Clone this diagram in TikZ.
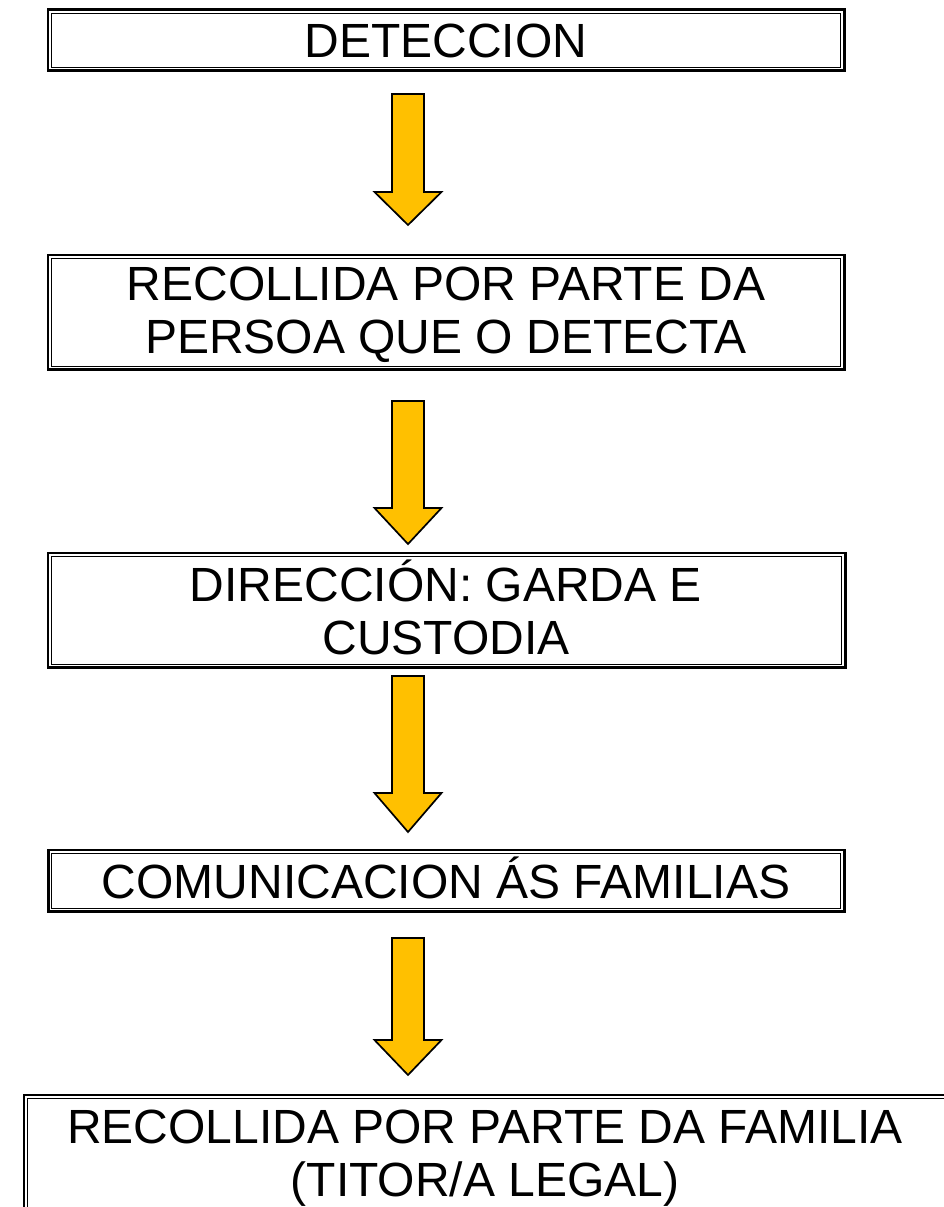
\documentclass[tikz,border=0pt]{standalone}
\usepackage{fontspec}
\setmainfont{Liberation Sans}
\definecolor{arrowgold}{HTML}{FFC000}
\tikzset{
  boxframe/.style={rectangle, draw=none, inner sep=0pt},
  boxtext/.style={anchor=base, inner sep=0pt, font=\fontsize{48}{53}\selectfont},
  outerline/.style={line width=2.6pt},
  innerline/.style={line width=1pt},
  blockarrow/.style={fill=arrowgold, draw=black, line width=1.7pt, line join=miter},
}
\newcommand\dframe[1]{%
  \draw[outerline] (#1.north west) rectangle (#1.south east);
  \draw[innerline] ([shift={(3.5,3.5)}]#1.north west) rectangle ([shift={(-3.5,-3.5)}]#1.south east);}
\newcommand\barrow[4]{%
  \draw[blockarrow] (392,#2) -- (424,#2) -- (424,#3) -- (441.5,#3) -- (408,#4)
    -- (374.5,#3) -- (392,#3) -- cycle;
  \coordinate (#1) at (408,#4);}
\begin{document}
\begin{tikzpicture}[x=1pt,y=-1pt]
\useasboundingbox (0,0) rectangle (944,1207);
% boxes
\node[boxframe, minimum width=796, minimum height=60.5] (b1) at (446,40.25) {};
\node[boxframe, minimum width=796, minimum height=114.5] (b2) at (446,312.25) {};
\node[boxframe, minimum width=797, minimum height=114.5] (b3) at (446.5,610.25) {};
\node[boxframe, minimum width=795.5, minimum height=61.5] (b4) at (446.25,880.75) {};
\node[boxframe, minimum width=930, minimum height=135] (b5) at (489,1162.5) {};
\foreach \b in {b1,b2,b3,b4,b5} {\dframe{\b}}
% texts
\node[boxtext] (t1) at (446,57.5) {DETECCION};
\node[boxtext] (t2) at (446,300) {\begin{tabular}[t]{@{}c@{}}RECOLLIDA POR PARTE DA\\PERSOA QUE O DETECTA\end{tabular}};
\node[boxtext] (t3) at (446,601) {\begin{tabular}[t]{@{}c@{}}DIRECCIÓN: GARDA E\\CUSTODIA\end{tabular}};
\node[boxtext] (t4) at (446,898) {COMUNICACION ÁS FAMILIAS};
\node[boxtext] (t5) at (485,1143) {\begin{tabular}[t]{@{}c@{}}RECOLLIDA POR PARTE DA FAMILIA\\(TITOR/A LEGAL)\end{tabular}};
% arrows
\barrow{a1}{94}{192}{225}
\barrow{a2}{401}{508}{544}
\barrow{a3}{676}{793}{832}
\barrow{a4}{938}{1040}{1075}
\end{tikzpicture}
\end{document}
